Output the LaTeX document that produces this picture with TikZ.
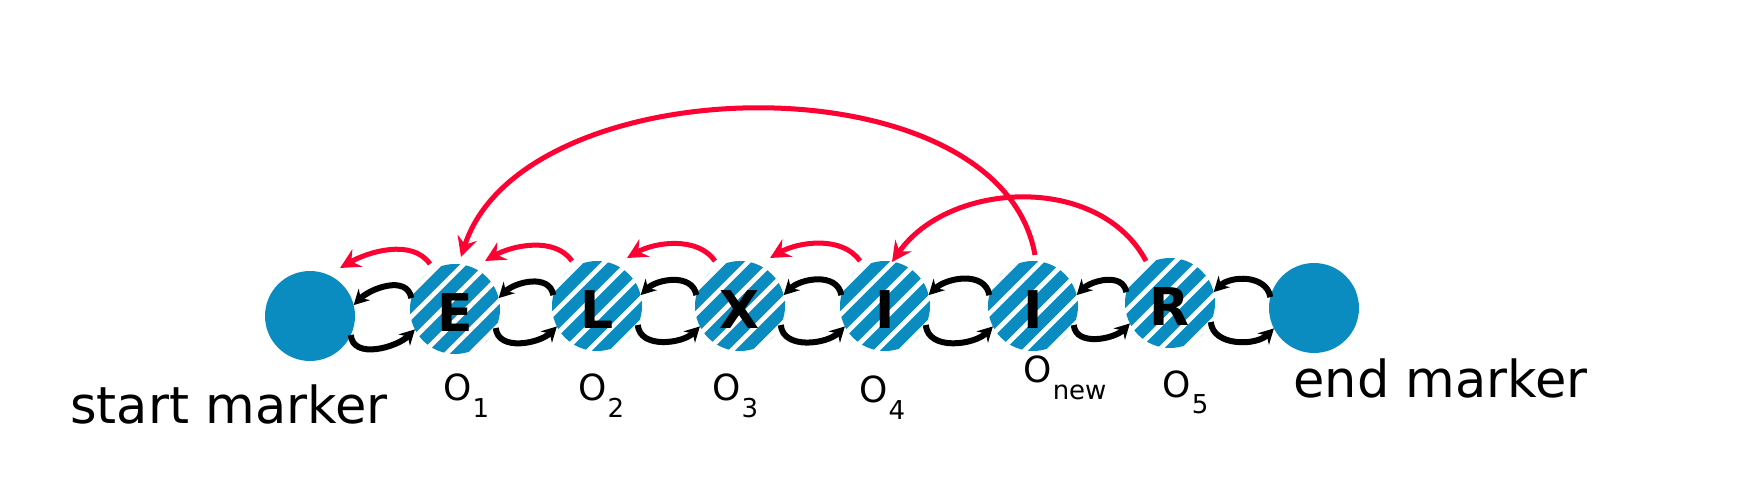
\documentclass[tikz,border=0pt]{standalone}
\usepackage{fontspec}
\setmainfont{DejaVu Sans}
\usetikzlibrary{arrows.meta,calc}
\definecolor{mblue}{HTML}{0A8CC0}
\definecolor{mred}{HTML}{FF0033}
\newcommand\osub[1]{O\kern0.5pt\raisebox{-8.5pt}{\fontsize{13}{13}\selectfont #1}}
\begin{document}
\begin{tikzpicture}[x=0.5pt,y=0.5pt,
 markerdot/.style={circle, fill=mblue, minimum size=45pt, inner sep=0pt, outer sep=0pt},
 hatched/.style={circle, minimum size=45pt, inner sep=0pt, outer sep=0pt,
   font=\bfseries\fontsize{26}{26}\selectfont, text height=23pt, text depth=0pt,
   path picture={
     \foreach \k in {-3,...,3}
       \draw[mblue, line width=6pt]
         ($(path picture bounding box.center)+(135:\k*8.5pt)+(225:32pt)$) --
         ($(path picture bounding box.center)+(135:\k*8.5pt)+(45:32pt)$);
   }},
 blk/.style={line width=3pt, -{Stealth[length=7.5pt,width=8pt,inset=2.5pt]}},
 redarc/.style={mred, line width=2.5pt, -{Stealth[length=10pt,width=10pt,inset=3.5pt]}},
 lbl/.style={font=\fontsize{25.5}{26}\selectfont, inner sep=0pt, anchor=base west},
 olbl/.style={font=\fontsize{18}{18}\selectfont, inner sep=0pt, anchor=base west}]
\useasboundingbox (0,0) rectangle (1744,482);
% nodes
\node[markerdot] (sm) at (310,166) {};
\node[hatched] (E) at (455,173) {E};
\node[hatched] (L) at (597,176) {L};
\node[hatched] (X) at (740,176) {X};
\node[hatched] (I4) at (885,176) {I};
\node[hatched] (In) at (1033,176) {I};
\node[hatched] (R) at (1170,179) {R};
\node[markerdot] (em) at (1314,174) {};
% labels
\node[lbl] (smlbl) at (70,59) {start marker};
\node[lbl] (emlbl) at (1293,84) {end marker};
\node[olbl] (o1) at (443,82) {\osub{1}};
\node[olbl] (o2) at (578,82) {\osub{2}};
\node[olbl] (o3) at (712,82) {\osub{3}};
\node[olbl] (o4) at (859,80) {\osub{4}};
\node[olbl] (onew) at (1023,99) {\osub{new}};
\node[olbl] (o5) at (1162,85) {\osub{5}};
% black links
\foreach \a/\b in {sm/E, E/L, L/X, X/I4, I4/In, In/R, R/em} {
  \draw[blk] (\b.166) to[out=100, in=45, looseness=1.05] (\a.14);
  \draw[blk] (\a.-25) to[out=-85, in=-135, looseness=1.0] (\b.207);
}
% red small arcs
\foreach \a/\b in {sm/E, E/L, L/X, X/I4}
  \draw[redarc] ($(\b)+(-25,45)$) to[out=125, in=30, looseness=0.9] ($(\a)+(30,48)$);
% red big arcs
\draw[redarc] ($(In)+(2,51)$) to[out=100, in=72, looseness=0.9] ($(E)+(6,52)$);
\draw[redarc] ($(R)+(-24,42)$) to[out=118, in=55] ($(I4)+(7,44)$);
\end{tikzpicture}
\end{document}
